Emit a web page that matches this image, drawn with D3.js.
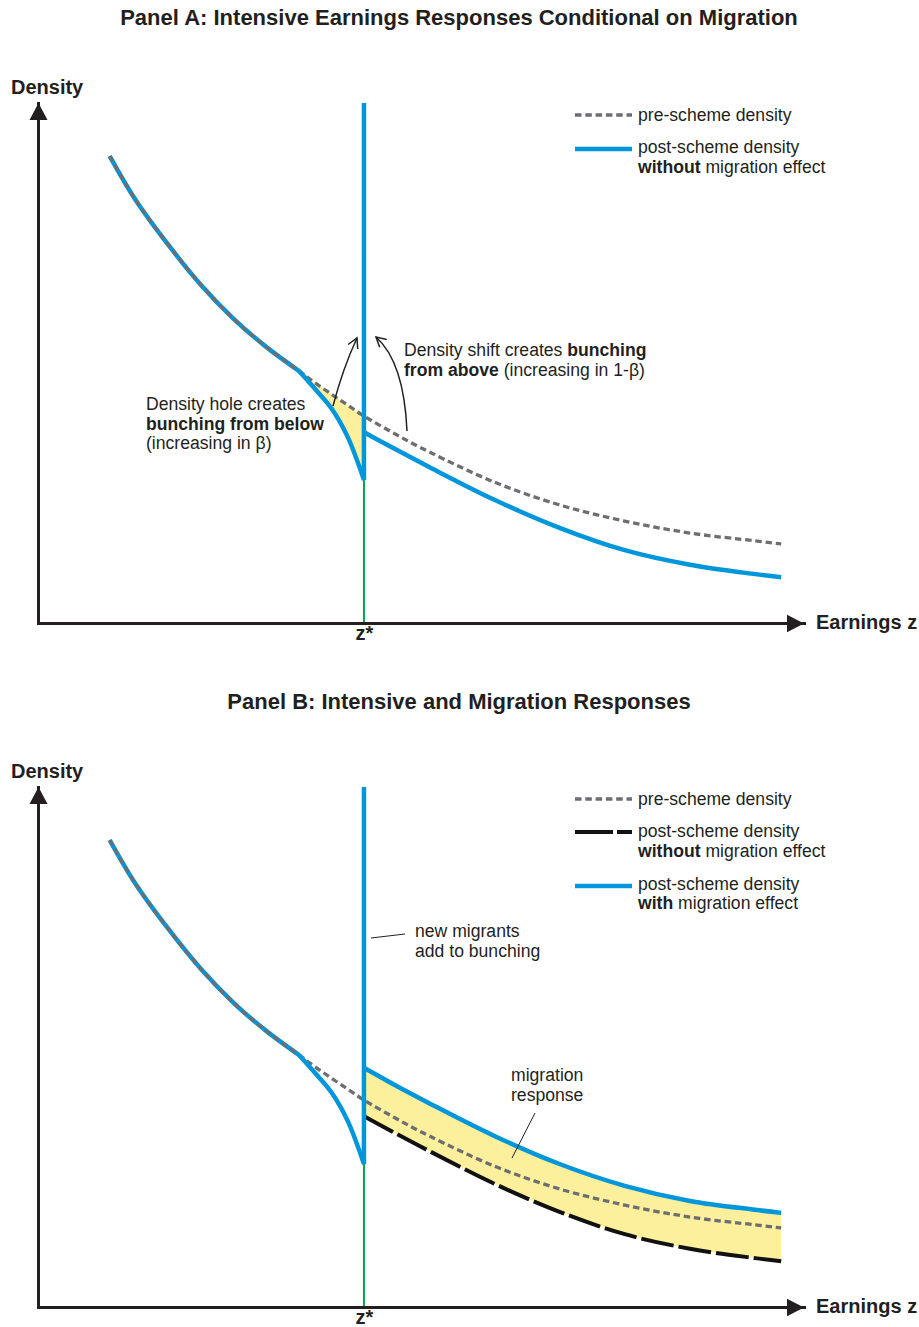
<!DOCTYPE html>
<html><head><meta charset="utf-8">
<script src="https://cdn.jsdelivr.net/npm/d3@7"></script>
<style>
body{margin:0;background:#fff;}
svg{display:block;font-family:"Liberation Sans",Arial,Helvetica,sans-serif;}
</style></head><body>
<svg id="chart" width="919" height="1327"></svg>
<script>
// ---------------- data (conceptual units) ----------------
const zStar = 5;
const spikeTop = 10;
const earningsLeft = [1.1, 1.5, 2, 2.5, 3, 3.5, 4, 4.25, 4.5, 4.75, 5];
const preLeft      = [8.98, 8.13, 7.27, 6.50, 5.85, 5.31, 4.85, 4.62, 4.40, 4.19, 3.98];
const earningsRight = [5, 5.5, 6, 7, 8, 9, 10, 11, 11.4];
const preRight      = [3.98, 3.62, 3.29, 2.71, 2.27, 1.96, 1.73, 1.58, 1.52];
const holeEarnings  = [4, 4.25, 4.5, 4.75, 5];
const postHole      = [4.85, 4.50, 4.13, 3.58, 2.75];
const postRightNoMigration = [3.67, 3.33, 3.00, 2.37, 1.83, 1.40, 1.12, 0.94, 0.88];
const postRightMigration   = [4.60, 4.25, 3.92, 3.29, 2.75, 2.33, 2.04, 1.87, 1.81];
const panelTitles = ["Panel A: Intensive Earnings Responses Conditional on Migration",
                     "Panel B: Intensive and Migration Responses"];

// ---------------- style ----------------
const INK = "#231f20", BLUE = "#0096db", GRAY = "#6d6e71", GREEN = "#00a651", YELLOW = "#fcf09c";
const FS = 17.6;

const svg = d3.select("#chart");
const x = d3.scaleLinear().domain([0, 11.75]).range([38, 804]);
const y = d3.scaleLinear().domain([0, 10]).range([623, 103]);

const zip = (xs, ys) => xs.map((v, i) => [v, ys[i]]);
const CURVE = d3.curveCatmullRom.alpha(0.5);
const line = d3.line().x(d => x(d[0])).y(d => y(d[1])).curve(CURVE);
const area = d3.area().x(d => x(d[0])).y0(d => y(d[1])).y1(d => y(d[2])).curve(CURVE);

const preAll = zip(earningsLeft.concat(earningsRight.slice(1)), preLeft.concat(preRight.slice(1)));
const prePart = zip(earningsLeft.filter(v => v <= 4), preLeft.filter((v, i) => earningsLeft[i] <= 4));
const holePts = zip(holeEarnings, postHole);
const preAtHole = holeEarnings.map(e => preLeft[earningsLeft.indexOf(e)]);

function addText(g, tx, ty, parts, size, anchor) {
  const t = g.append("text").attr("x", tx).attr("y", ty).attr("font-size", size || FS)
    .attr("fill", INK).attr("text-anchor", anchor || "start");
  parts.forEach(p => t.append("tspan").text(p[0]).attr("font-weight", p[1] ? "bold" : "normal"));
  return t;
}

function curvedArrow(g, p0, c, p2) {
  g.append("path").attr("d", `M${p0[0]},${p0[1]}Q${c[0]},${c[1]} ${p2[0]},${p2[1]}`)
    .attr("fill", "none").attr("stroke", INK).attr("stroke-width", 1.5);
  const ang = Math.atan2(p2[1] - c[1], p2[0] - c[0]);
  const L = 11, s = 0.5;
  const a1 = [p2[0] - L * Math.cos(ang - s), p2[1] - L * Math.sin(ang - s)];
  const a2 = [p2[0] - L * Math.cos(ang + s), p2[1] - L * Math.sin(ang + s)];
  g.append("path").attr("d", `M${a1}L${p2}L${a2}`).attr("fill", "none")
    .attr("stroke", INK).attr("stroke-width", 1.5);
}

function drawAxes(g) {
  const gx = g.append("g").attr("transform", `translate(0,${y(0)})`)
    .call(d3.axisBottom(x).tickValues([zStar]).tickFormat(() => "z*").tickSize(0).tickSizeOuter(0).tickPadding(3));
  gx.attr("font-size", 20).attr("font-family", null).attr("font-weight", "bold");
  gx.select(".domain").attr("stroke", INK).attr("stroke-width", 3).attr("stroke-linecap", "square");
  gx.selectAll("text").attr("fill", INK);
  const gy = g.append("g").attr("transform", `translate(${x(0)},0)`)
    .call(d3.axisLeft(y).tickValues([]).tickSizeOuter(0));
  gy.select(".domain").attr("stroke", INK).attr("stroke-width", 3).attr("stroke-linecap", "square");
  const x0 = x(0) + 0.5, yTop = y(spikeTop);
  g.append("path").attr("d", `M${x0},${yTop}L${x0 + 9},${yTop + 17}L${x0 - 9},${yTop + 17}Z`).attr("fill", INK);
  const xe = x(11.75), y0 = y(0) + 0.5;
  g.append("path").attr("d", `M${xe},${y0}L${xe - 17},${y0 - 8.7}L${xe - 17},${y0 + 8.7}Z`).attr("fill", INK);
  addText(g, 11, 94, [["Density", true]], 20);
  addText(g, 816, 628.5, [["Earnings z", true]], 20);
}

function drawPanel(offset, title, withMigration) {
  const g = svg.append("g").attr("transform", `translate(0,${offset})`);
  addText(g, 459, 24.5, [[title, true]], 22, "middle");

  // yellow fill
  if (!withMigration) {
    g.append("path").datum(holeEarnings.map((e, i) => [e, postHole[i], preAtHole[i]]))
      .attr("d", area).attr("fill", YELLOW);
  } else {
    g.append("path").datum(earningsRight.map((e, i) => [e, postRightNoMigration[i], postRightMigration[i]]))
      .attr("d", area).attr("fill", YELLOW);
  }
  // green line at z*
  g.append("line").attr("x1", x(zStar)).attr("x2", x(zStar)).attr("y1", y(0)).attr("y2", y(postHole[postHole.length - 1]))
    .attr("stroke", GREEN).attr("stroke-width", 2);

  drawAxes(g);

  // blue post-scheme left (coincides with pre)
  g.append("path").attr("d", line(prePart)).attr("fill", "none").attr("stroke", BLUE).attr("stroke-width", 4.5);

  if (!withMigration) {
    g.append("path").attr("d", line(zip(earningsRight, postRightNoMigration))).attr("fill", "none")
      .attr("stroke", BLUE).attr("stroke-width", 4.5);
  } else {
    g.append("path").attr("d", line(zip(earningsRight, postRightMigration))).attr("fill", "none")
      .attr("stroke", BLUE).attr("stroke-width", 4.5);
    g.append("path").attr("d", line(zip(earningsRight, postRightNoMigration))).attr("fill", "none")
      .attr("stroke", "#111").attr("stroke-width", 4).attr("stroke-dasharray", "33,5");
  }
  // pre-scheme dashed
  g.append("path").attr("d", line(preAll)).attr("fill", "none").attr("stroke", GRAY)
    .attr("stroke-width", 3.3).attr("stroke-dasharray", "6.5,3.8");
  // hole + spike
  g.append("path").attr("d", line(holePts) + `L${x(zStar)},${y(spikeTop)}`).attr("fill", "none")
    .attr("stroke", BLUE).attr("stroke-width", 4.5).attr("stroke-linejoin", "miter").attr("stroke-miterlimit", 6);

  // legend
  const lx0 = 575, lx1 = 632, tx = 638;
  g.append("line").attr("x1", lx0).attr("x2", lx1).attr("y1", 115).attr("y2", 115)
    .attr("stroke", GRAY).attr("stroke-width", 3.3).attr("stroke-dasharray", "6.5,3.8");
  addText(g, tx, 121, [["pre-scheme density", false]]);
  if (!withMigration) {
    g.append("line").attr("x1", lx0).attr("x2", lx1).attr("y1", 149).attr("y2", 149)
      .attr("stroke", BLUE).attr("stroke-width", 4.5);
    addText(g, tx, 153, [["post-scheme density", false]]);
    addText(g, tx, 172.5, [["without", true], [" migration effect", false]]);

    addText(g, 146, 410, [["Density hole creates", false]]);
    addText(g, 146, 429.5, [["bunching from below", true]]);
    addText(g, 146, 449, [["(increasing in β)", false]]);
    addText(g, 404, 356, [["Density shift creates ", false], ["bunching", true]]);
    addText(g, 404, 376, [["from above", true], [" (increasing in 1-β)", false]]);
    curvedArrow(g, [333, 406], [343, 368], [357, 338]);
    curvedArrow(g, [407, 431], [404, 362], [376, 337]);
  } else {
    g.append("line").attr("x1", lx0).attr("x2", lx1).attr("y1", 148).attr("y2", 148)
      .attr("stroke", "#111").attr("stroke-width", 4).attr("stroke-dasharray", "38,4");
    addText(g, tx, 153, [["post-scheme density", false]]);
    addText(g, tx, 172.5, [["without", true], [" migration effect", false]]);
    g.append("line").attr("x1", lx0).attr("x2", lx1).attr("y1", 202).attr("y2", 202)
      .attr("stroke", BLUE).attr("stroke-width", 4.5);
    addText(g, tx, 206, [["post-scheme density", false]]);
    addText(g, tx, 224.5, [["with", true], [" migration effect", false]]);

    addText(g, 415, 253, [["new migrants", false]]);
    addText(g, 415, 272.5, [["add to bunching", false]]);
    g.append("line").attr("x1", 371).attr("y1", 254).attr("x2", 405).attr("y2", 250)
      .attr("stroke", INK).attr("stroke-width", 1);
    addText(g, 511, 397, [["migration", false]]);
    addText(g, 511, 417, [["response", false]]);
    g.append("line").attr("x1", 535).attr("y1", 429).attr("x2", 512).attr("y2", 474)
      .attr("stroke", INK).attr("stroke-width", 1);
  }
}

drawPanel(0, panelTitles[0], false);
drawPanel(684, panelTitles[1], true);
</script>
</body></html>
